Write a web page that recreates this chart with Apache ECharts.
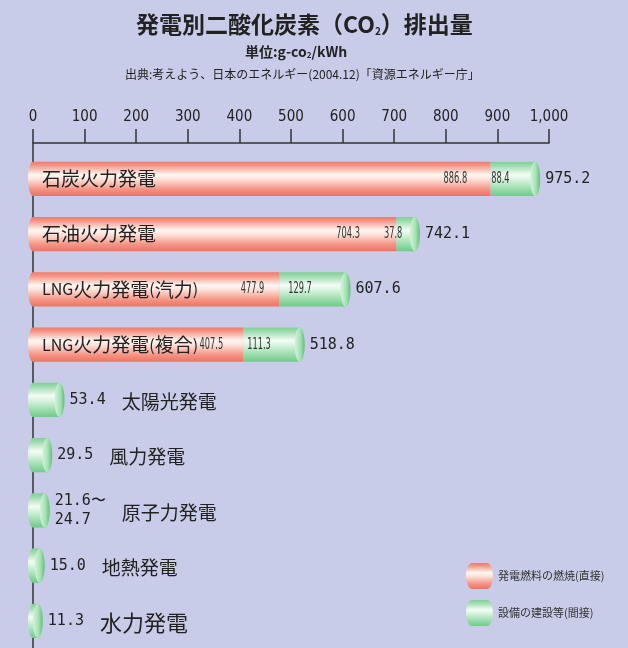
<!DOCTYPE html>
<html>
<head>
<meta charset="utf-8">
<script src="https://cdn.jsdelivr.net/npm/echarts@6/dist/echarts.min.js"></script>
<style>
html, body { margin: 0; padding: 0; background: #c9cce8; }
#main { width: 628px; height: 648px; }
</style>
</head>
<body>
<div id="main"></div>
<script>
// data
var categories = ['石炭火力発電', '石油火力発電', 'LNG火力発電(汽力)', 'LNG火力発電(複合)', '太陽光発電', '風力発電', '原子力発電', '地熱発電', '水力発電'];
var directValues = [886.8, 704.3, 477.9, 407.5, 0, 0, 0, 0, 0];
var indirectValues = [88.4, 37.8, 129.7, 111.3, 53.4, 29.5, 24.7, 15.0, 11.3];
var totalLabels = ['975.2', '742.1', '607.6', '518.8', '53.4', '29.5', '21.6〜\n24.7', '15.0', '11.3'];
var seriesNames = ['発電燃料の燃焼(直接)', '設備の建設等(間接)'];
var xMin = 0, xMax = 1000, xStep = 100;

var chartDom = document.getElementById('main');
var myChart = echarts.init(chartDom);
var option;

var CJK = '"Noto Sans CJK JP", sans-serif';
var MONO = '"DejaVu Sans Mono", monospace';
var nameFont = '19px ' + CJK;
var latinFont = '16px ' + CJK;
var bigNameFont = '22px ' + CJK;
var valueFont = '15px ' + MONO;
var innerFont = '15px "DejaVu Sans", sans-serif';

var measureCtx = document.createElement('canvas').getContext('2d');
function textWidth(t, font) {
    measureCtx.font = font;
    return Math.max.apply(null, t.split('\n').map(function (s) { return measureCtx.measureText(s).width; }));
}

function grad(stops) {
    return new echarts.graphic.LinearGradient(0, 0, 0, 1, stops);
}
var redGrad = grad([
    { offset: 0, color: '#f07a68' }, { offset: 0.12, color: '#f59a8a' },
    { offset: 0.38, color: '#fff6f2' }, { offset: 0.5, color: '#fde4dd' },
    { offset: 0.8, color: '#f59484' }, { offset: 1, color: '#ee7262' }
]);
var greenGrad = grad([
    { offset: 0, color: '#7fd096' }, { offset: 0.12, color: '#a0dcb0' },
    { offset: 0.38, color: '#f4fcf5' }, { offset: 0.5, color: '#ddf4e2' },
    { offset: 0.8, color: '#98dcaa' }, { offset: 1, color: '#72c88a' }
]);
var greenFace = new echarts.graphic.LinearGradient(0, 0, 1, 0, [
    { offset: 0, color: '#d4f4da' }, { offset: 0.55, color: '#a6e2b4' }, { offset: 1, color: '#62c07c' }
]);

var CAP = 5;

function renderDirect(params, api) {
    var row = api.value(0), start = api.value(1), end = api.value(2);
    if (end <= start) return;
    var p0 = api.coord([start, row]);
    var p1 = api.coord([end, row]);
    var h = api.size([0, 1])[1] * 0.62;
    var cy = p0[1];
    // latin letters a bit smaller, like the narrow gothic of the original
    var name = categories[row].replace(/[A-Za-z()]+/g, '{l|$&}');
    return {
        type: 'group',
        children: [
            { type: 'ellipse', shape: { cx: p0[0], cy: cy, rx: CAP, ry: h / 2 }, style: { fill: redGrad } },
            { type: 'rect', shape: { x: p0[0], y: cy - h / 2, width: p1[0] - p0[0], height: h }, style: { fill: redGrad } },
            {
                type: 'text', x: p0[0] + 9, y: cy,
                style: {
                    text: name, font: nameFont, fill: '#222', align: 'left', verticalAlign: 'middle',
                    rich: { l: { font: latinFont, fill: '#222' } }
                }
            }
        ]
    };
}

function renderIndirect(params, api) {
    var row = api.value(0), start = api.value(1), end = api.value(2);
    var p0 = api.coord([start, row]);
    var p1 = api.coord([end, row]);
    var h = api.size([0, 1])[1] * 0.62;
    var cy = p0[1];
    var cx = p1[0] - 1;
    var children = [];
    if (start === 0) {
        children.push({ type: 'ellipse', shape: { cx: p0[0], cy: cy, rx: CAP, ry: h / 2 }, style: { fill: greenGrad } });
    }
    children.push(
        { type: 'rect', shape: { x: p0[0], y: cy - h / 2, width: cx - p0[0], height: h }, style: { fill: greenGrad } },
        { type: 'ellipse', shape: { cx: cx, cy: cy, rx: CAP, ry: h / 2 }, style: { fill: greenFace } }
    );
    var labelX = p1[0] + 9;
    var total = totalLabels[row];
    children.push({ type: 'text', x: labelX, y: cy, style: { text: total, font: valueFont, fill: '#222', align: 'left', verticalAlign: 'middle', lineHeight: 19 } });

    if (start > 0) {
        // small condensed numbers inside the bar
        var gTxt = indirectValues[row].toFixed(1);
        var rTxt = directValues[row].toFixed(1);
        var gCenter = (p0[0] + p1[0]) / 2 - 13;
        var gW = textWidth(gTxt, innerFont) * 0.55;
        var rRight = gCenter - gW / 2 - 24;
        children.push(
            { type: 'text', x: gCenter, y: cy, scaleX: 0.55, style: { text: gTxt, font: innerFont, fill: '#333', align: 'center', verticalAlign: 'middle' } },
            { type: 'text', x: rRight, y: cy, scaleX: 0.55, style: { text: rTxt, font: innerFont, fill: '#333', align: 'right', verticalAlign: 'middle' } }
        );
    } else {
        var w = textWidth(total, valueFont);
        var font = row === categories.length - 1 ? bigNameFont : nameFont;
        children.push({ type: 'text', x: labelX + w + 16, y: cy + 2, style: { text: categories[row], font: font, fill: '#222', align: 'left', verticalAlign: 'middle' } });
    }
    return { type: 'group', children: children };
}

var directData = categories.map(function (c, i) { return [i, 0, directValues[i]]; });
var indirectData = categories.map(function (c, i) { return [i, directValues[i], directValues[i] + indirectValues[i]]; });

option = {
    backgroundColor: '#c9cce8',
    animation: false,
    title: [{
        text: '{a|発電別二酸化炭素（CO}{s|2}{a|）排出量}',
        left: 131,
        top: 8,
        textStyle: {
            rich: {
                a: { fontSize: 23, fontWeight: 'bold', fontFamily: CJK, color: '#222', verticalAlign: 'bottom' },
                s: { fontSize: 10, fontWeight: 'bold', fontFamily: CJK, color: '#222', verticalAlign: 'bottom' }
            }
        }
    }, {
        text: '{a|単位:g-co}{s|2}{a|/kWh}',
        left: 240,
        top: 40,
        textStyle: {
            rich: {
                a: { fontSize: 14, fontWeight: 'bold', fontFamily: CJK, color: '#222', verticalAlign: 'bottom' },
                s: { fontSize: 8, fontWeight: 'bold', fontFamily: CJK, color: '#222', verticalAlign: 'bottom' }
            }
        }
    }, {
        text: '出典:考えよう、日本のエネルギー(2004.12)「資源エネルギー庁」',
        left: 120,
        top: 63,
        textStyle: { fontSize: 12, fontWeight: 'normal', fontFamily: CJK, color: '#222' }
    }],
    legend: {
        orient: 'vertical',
        left: 461,
        top: 558,
        itemWidth: 27,
        itemHeight: 26,
        itemGap: 11,
        icon: 'path://M6,0 H21 A6,13 0 0 1 21,26 H6 A6,13 0 0 1 6,0 Z',
        textStyle: { fontSize: 11, fontFamily: CJK, color: '#333' },
        data: seriesNames
    },
    grid: { left: 33, right: 79, top: 143, bottom: 0 },
    xAxis: {
        type: 'value',
        position: 'top',
        min: xMin,
        max: xMax,
        interval: xStep,
        axisLine: { show: true, onZero: false, lineStyle: { color: '#333', width: 1.5 } },
        axisTick: { show: true, length: 14, lineStyle: { color: '#333', width: 1.5 } },
        axisLabel: {
            margin: 18,
            fontSize: 15,
            fontFamily: '"DejaVu Sans Condensed", sans-serif',
            color: '#222',
            formatter: function (v) { return echarts.format.addCommas(v); }
        },
        splitLine: { show: false }
    },
    yAxis: {
        type: 'value',
        inverse: true,
        min: -0.65,
        max: 8.49,
        axisLine: { show: true, onZero: false, lineStyle: { color: '#333', width: 1.5 } },
        axisTick: { show: false },
        axisLabel: { show: false },
        splitLine: { show: false }
    },
    series: [{
        name: seriesNames[0],
        type: 'custom',
        renderItem: renderDirect,
        itemStyle: { color: redGrad },
        encode: { x: [1, 2], y: 0 },
        data: directData
    }, {
        name: seriesNames[1],
        type: 'custom',
        renderItem: renderIndirect,
        itemStyle: { color: greenGrad },
        encode: { x: [1, 2], y: 0 },
        data: indirectData
    }]
};

option && myChart.setOption(option);
</script>
</body>
</html>
